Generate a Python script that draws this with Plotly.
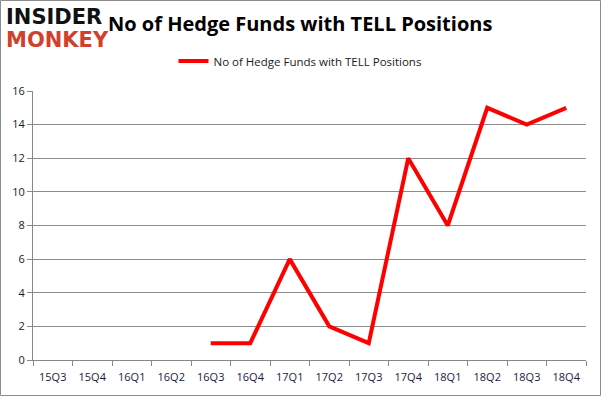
import plotly.graph_objects as go

categories = ["15Q3", "15Q4", "16Q1", "16Q2", "16Q3", "16Q4", "17Q1", "17Q2",
              "17Q3", "17Q4", "18Q1", "18Q2", "18Q3", "18Q4"]
funds = [None, None, None, None, 1, 1, 6, 2, 1, 12, 8, 15, 14, 15]
series_name = "No of Hedge Funds with TELL Positions"
title_text = "No of Hedge Funds with TELL Positions"
y_ticks = [0, 2, 4, 6, 8, 10, 12, 14, 16]

W, H = 601, 396
L, R, T, B = 33, 15, 91, 36
pw, ph = W - L - R, H - T - B

fig = go.Figure()
fig.add_trace(go.Scatter(
    x=categories, y=funds, mode="lines", name=series_name,
    line=dict(color="#ff0000", width=4), connectgaps=False,
))

def px_x(x):
    return (x - L) / pw

def px_y(y):
    return (H - B - y) / ph

fig.update_layout(
    width=W, height=H,
    margin=dict(l=L, r=R, t=T, b=B, pad=0),
    paper_bgcolor="white", plot_bgcolor="white",
    font=dict(family="Open Sans, DejaVu Sans, sans-serif", size=11, color="#1a1a1a"),
    showlegend=True,
    legend=dict(orientation="h", x=px_x(300), xanchor="center", y=px_y(61), yanchor="middle",
                font=dict(size=11.5, color="#1a1a1a"), bgcolor="rgba(0,0,0,0)"),
    xaxis=dict(
        type="category", categoryorder="array", categoryarray=categories,
        range=[-0.5, len(categories) - 0.5],
        showgrid=False, showline=True, linecolor="#888888", linewidth=1,
        ticks="outside", ticklen=5, tickcolor="#888888",
        tickson="boundaries", ticklabelstandoff=7,
        tickfont=dict(size=11, color="#1a1a40"),
        zeroline=False, fixedrange=True,
    ),
    yaxis=dict(
        range=[0, 16], tickvals=y_ticks, showgrid=True, gridcolor="#8c8c8c", gridwidth=1,
        showline=True, linecolor="#888888", linewidth=1,
        ticks="outside", ticklen=5, tickcolor="#888888",
        tickfont=dict(size=11, color="#1a1a1a"), zeroline=False, fixedrange=True,
    ),
    annotations=[
        dict(text="<b>" + title_text + "</b>", xref="paper", yref="paper",
             x=px_x(300), y=px_y(23), xanchor="center", yanchor="middle",
             showarrow=False, font=dict(size=20, color="#000000",
                                        family="Open Sans, DejaVu Sans, sans-serif")),
        dict(text="<b>INSIDER</b>", xref="paper", yref="paper",
             x=px_x(4), y=px_y(17), xanchor="left", yanchor="middle",
             showarrow=False, font=dict(size=21, color="#111111",
                                        family="DejaVu Sans, sans-serif")),
        dict(text="<b>MONKEY</b>", xref="paper", yref="paper",
             x=px_x(4), y=px_y(40), xanchor="left", yanchor="middle",
             showarrow=False, font=dict(size=21, color="#d2402c",
                                        family="DejaVu Sans, sans-serif")),
    ],
    shapes=[
        dict(type="rect", xref="paper", yref="paper",
             x0=px_x(0.5), x1=px_x(600.5), y0=px_y(395.5), y1=px_y(0.5),
             line=dict(color="#8c8c8c", width=1), fillcolor="rgba(0,0,0,0)", layer="below"),
    ],
)

fig.write_html("out.html", config={"displayModeBar": False},
               post_script="document.body.style.margin='0';")
